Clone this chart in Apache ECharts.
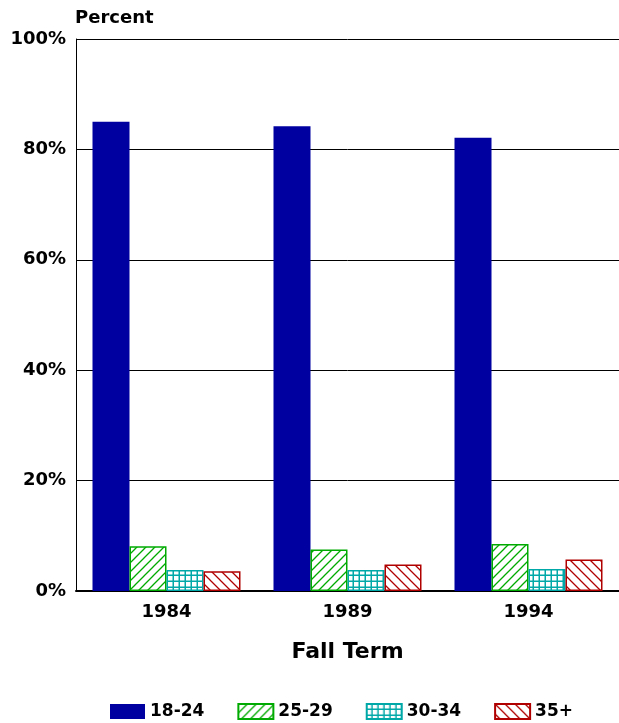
<!DOCTYPE html>
<html>
<head>
<meta charset="utf-8">
<script src="https://cdn.jsdelivr.net/npm/echarts@6/dist/echarts.min.js"></script>
<style>
  html, body { margin: 0; padding: 0; background: #fff; }
  #main { width: 619px; height: 723px; }
</style>
</head>
<body>
<div id="main"></div>
<script>
// values, percent of students
var years = ['1984', '1989', '1994'];
var age18to24 = [85.0, 84.2, 82.1];
var age25to29 = [8.1, 7.5, 8.5];
var age30to34 = [3.8, 3.8, 4.0];
var age35plus = [3.6, 4.8, 5.7];
var yTicks = [0, 20, 40, 60, 80, 100];

var FONT = '"DejaVu Sans", Verdana, sans-serif';

// hatch tiles drawn on small canvases
function hatch(kind, color) {
    var size = kind === 'grid' ? 6 : (kind === 'fwd' ? 9 : 10);
    var c = document.createElement('canvas');
    c.width = size; c.height = size;
    var ctx = c.getContext('2d');
    ctx.fillStyle = '#fff';
    ctx.fillRect(0, 0, size, size);
    ctx.strokeStyle = color;
    ctx.lineWidth = kind === 'grid' ? 1.5 : 1.3;
    ctx.beginPath();
    if (kind === 'grid') {
        ctx.moveTo(size - 0.75, 0); ctx.lineTo(size - 0.75, size);
        ctx.moveTo(0, size - 0.75); ctx.lineTo(size, size - 0.75);
    } else if (kind === 'fwd') {
        ctx.moveTo(-1, size + 1); ctx.lineTo(size + 1, -1);
        ctx.moveTo(-1, 1); ctx.lineTo(1, -1);
        ctx.moveTo(size - 1, size + 1); ctx.lineTo(size + 1, size - 1);
    } else {
        ctx.moveTo(-1, -1); ctx.lineTo(size + 1, size + 1);
        ctx.moveTo(size - 1, -1); ctx.lineTo(size + 1, 1);
        ctx.moveTo(-1, size - 1); ctx.lineTo(1, size + 1);
    }
    ctx.stroke();
    return { image: c, repeat: 'repeat' };
}

var chart = echarts.init(document.getElementById('main'));

function barSeries(name, data, fill, border) {
    return {
        name: name,
        type: 'bar',
        data: data,
        barWidth: 37,
        barGap: '0%',
        itemStyle: {
            color: fill,
            borderColor: border || fill,
            borderWidth: border ? 1.5 : 0
        }
    };
}

var option = {
    backgroundColor: '#fff',
    animation: false,
    grid: { left: 76, right: 0, top: 39, bottom: 132 },
    graphic: [
        { type: 'text', left: 75, top: 9,
          style: { text: 'Percent', font: 'bold 18px ' + FONT, fill: '#000' } }
    ],
    xAxis: {
        type: 'category',
        data: years,
        name: 'Fall Term',
        nameLocation: 'middle',
        nameGap: 50,
        nameTextStyle: { fontFamily: FONT, fontWeight: 'bold', fontSize: 22, color: '#000' },
        axisLine: { lineStyle: { color: '#000', width: 2 } },
        axisTick: { show: false },
        axisLabel: { fontFamily: FONT, fontWeight: 'bold', fontSize: 18, color: '#000', margin: 12 }
    },
    yAxis: {
        type: 'value',
        min: 0,
        max: 100,
        interval: 20,
        axisLine: { show: true, lineStyle: { color: '#000', width: 1 } },
        axisTick: { show: false },
        splitLine: { lineStyle: { color: '#000', width: 1 } },
        axisLabel: {
            fontFamily: FONT, fontWeight: 'bold', fontSize: 18, color: '#000', margin: 10,
            formatter: function (v) { return yTicks.indexOf(v) >= 0 ? v + '%' : ''; }
        }
    },
    legend: {
        top: 698,
        left: 105,
        itemWidth: 35,
        itemHeight: 15,
        itemGap: 33,
        icon: 'rect',
        textStyle: { fontFamily: FONT, fontWeight: 'bold', fontSize: 17, color: '#000' },
        data: ['18-24', '25-29', '30-34', '35+']
    },
    series: [
        barSeries('18-24', age18to24, '#0000a0'),
        barSeries('25-29', age25to29, hatch('fwd', '#00aa00'), '#00aa00'),
        barSeries('30-34', age30to34, hatch('grid', '#00a8a8'), '#00a8a8'),
        barSeries('35+', age35plus, hatch('back', '#b00000'), '#b00000')
    ]
};

chart.setOption(option);
</script>
</body>
</html>
